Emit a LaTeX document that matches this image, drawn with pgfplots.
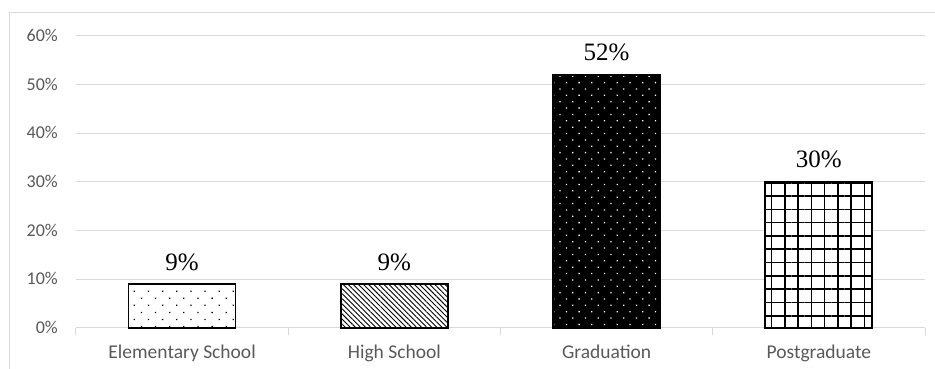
\documentclass[border=0pt]{standalone}
\usepackage{fontspec}
\setmainfont{Carlito}
\newfontfamily\labelfont{Liberation Serif}
\usepackage{pgfplots}
\pgfplotsset{compat=1.18}
\usetikzlibrary{patterns.meta}
\definecolor{gridgray}{HTML}{D9D9D9}
\definecolor{ticktext}{HTML}{595959}

% share of respondents by education level
\pgfplotstableread{
x y
1 9
}\elementary
\pgfplotstableread{
x y
2 9
}\highschool
\pgfplotstableread{
x y
3 52
}\graduation
\pgfplotstableread{
x y
4 30
}\postgrad

\begin{document}
\begin{tikzpicture}[x=1pt,y=1pt]
\useasboundingbox (0,0) rectangle (935,369);
\draw[gridgray, line width=1pt] (9.5,-5) -- (9.5,356) -- (940,356);
\begin{axis}[
  at={(76pt,41pt)}, anchor=south west,
  scale only axis, width=849pt, height=292pt,
  xmin=0.5, xmax=4.5, ymin=0, ymax=60,
  /pgf/number format/assume math mode=true,
  ybar, bar width=107pt,
  axis x line*=bottom, axis y line*=left,
  y axis line style={draw=none},
  x axis line style={gridgray, line width=1pt},
  xtick={1,2,3,4},
  xticklabels={Elementary School, High School, Graduation, Postgraduate},
  minor xtick={0.5,1.5,2.5,3.5,4.5},
  major tick length=0pt, minor tick length=7pt,
  tick align=outside,
  tick style={gridgray, line width=1pt},
  ytick={0,10,...,60},
  yticklabel={\pgfmathprintnumber{\tick}\%},
  ymajorgrids, grid style={gridgray, line width=1pt},
  ticklabel style={text=ticktext, inner sep=0pt},
  xticklabel style={font=\fontsize{19.5}{23}\selectfont, anchor=base, yshift=-31pt},
  yticklabel style={font=\fontsize{18}{21}\selectfont, anchor=base east, xshift=-18pt, yshift=-5.5pt},
  every node near coord/.append style={font=\labelfont\fontsize{25}{29}\selectfont, text=black, anchor=base, yshift=14pt, inner sep=0pt},
  clip=false,
]
\addplot[bar shift=0pt, draw=black, line width=1.5pt, fill=white,
  postaction={pattern={Dots[distance=10pt, angle=45, radius=0.9pt]}, pattern color=black},
  nodes near coords={\pgfmathprintnumber{\pgfplotspointmeta}\%}]
  table[x=x, y=y] {\elementary};
\addplot[bar shift=0pt, draw=black, line width=1.5pt, fill=white,
  postaction={pattern={Lines[angle=-45, distance=3.6pt, line width=0.9pt]}, pattern color=black},
  nodes near coords={\pgfmathprintnumber{\pgfplotspointmeta}\%}]
  table[x=x, y=y] {\highschool};
\addplot[bar shift=0pt, draw=black, line width=1.5pt, fill=black,
  postaction={pattern={Dots[distance=9pt, angle=45, radius=0.9pt]}, pattern color=white},
  nodes near coords={\pgfmathprintnumber{\pgfplotspointmeta}\%}]
  table[x=x, y=y] {\graduation};
\addplot[bar shift=0pt, draw=black, line width=2pt, fill=white,
  postaction={pattern={Hatch[angle=0, distance=13.3pt, line width=1.6pt]}, pattern color=black},
  nodes near coords={\pgfmathprintnumber{\pgfplotspointmeta}\%}]
  table[x=x, y=y] {\postgrad};
\end{axis}
\end{tikzpicture}
\end{document}
